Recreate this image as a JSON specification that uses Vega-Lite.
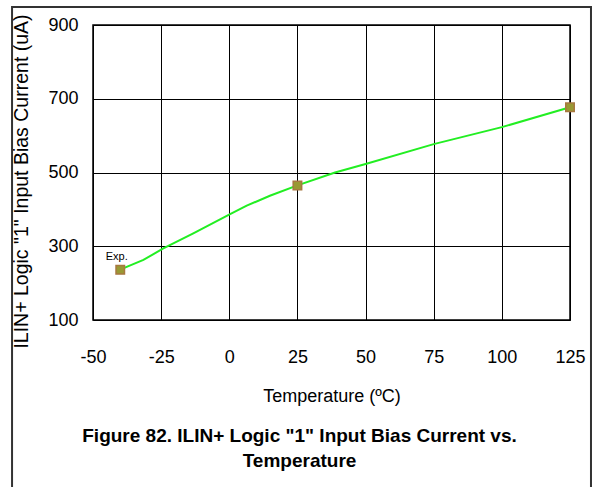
{
  "$schema": "https://vega.github.io/schema/vega-lite/v6.json",
  "width": 477,
  "height": 295,
  "autosize": "none",
  "padding": {"left": 93, "top": 25, "right": 24, "bottom": 167},
  "background": "white",
  "config": {
    "font": "Liberation Sans",
    "view": {"stroke": "black", "strokeWidth": 1.5}
  },
  "title": {
    "text": ["Figure 82. ILIN+ Logic \"1\" Input Bias Current vs.", "Temperature"],
    "orient": "bottom",
    "anchor": "middle",
    "frame": "bounds",
    "font": "Liberation Sans",
    "fontSize": 19,
    "fontWeight": "bold",
    "color": "black",
    "lineHeight": 25,
    "offset": -64,
    "dx": -2
  },
  "datasets": {
    "curve": [
      {"t": -40, "i": 236},
      {"t": -38.3, "i": 242},
      {"t": -31.5, "i": 263},
      {"t": -24.2, "i": 294},
      {"t": -13.2, "i": 335},
      {"t": 0.3, "i": 387},
      {"t": 6.4, "i": 410},
      {"t": 14.9, "i": 437},
      {"t": 25, "i": 465},
      {"t": 38.8, "i": 500},
      {"t": 50, "i": 523},
      {"t": 75, "i": 577},
      {"t": 100, "i": 623},
      {"t": 125, "i": 677}
    ],
    "points": [
      {"t": -40, "i": 236},
      {"t": 25, "i": 465},
      {"t": 125, "i": 677}
    ],
    "labels": [
      {"t": -41.3, "i": 271, "label": "Exp."}
    ],
    "frame": [
      {"x1": -79.7, "x2": 132.7, "y1": 948.8, "y2": -361}
    ]
  },
  "encoding": {
    "x": {
      "field": "t",
      "type": "quantitative",
      "scale": {"domain": [-50, 125], "nice": false, "zero": false},
      "axis": {
        "values": [-50, -25, 0, 25, 50, 75, 100, 125],
        "labelExpr": "'' + datum.value",
        "title": "Temperature (ºC)",
        "titleFont": "Liberation Sans",
        "titleFontSize": 18,
        "titleFontWeight": "normal",
        "titleColor": "black",
        "titlePadding": 21,
        "labelFont": "Liberation Sans",
        "labelFontSize": 18,
        "labelColor": "black",
        "labelPadding": 28,
        "labelFlush": false,
        "ticks": false,
        "domain": false,
        "grid": true,
        "gridColor": "black",
        "gridOpacity": 1,
        "gridWidth": 1
      }
    },
    "y": {
      "field": "i",
      "type": "quantitative",
      "scale": {"domain": [100, 900], "nice": false, "zero": false},
      "axis": {
        "values": [100, 300, 500, 700, 900],
        "labelExpr": "'' + datum.value",
        "title": "ILIN+ Logic \"1\" Input Bias Current (uA)",
        "titleFont": "Liberation Sans",
        "titleFontSize": 19.5,
        "titleFontWeight": "normal",
        "titleColor": "black",
        "titlePadding": 16,
        "titleY": 156,
        "labelFont": "Liberation Sans",
        "labelFontSize": 18,
        "labelColor": "black",
        "labelPadding": 15,
        "labelFlush": false,
        "ticks": false,
        "domain": false,
        "grid": true,
        "gridColor": "black",
        "gridOpacity": 1,
        "gridWidth": 1
      }
    }
  },
  "layer": [
    {
      "data": {"name": "frame"},
      "mark": {"type": "rect", "fill": null, "stroke": "#333333", "strokeWidth": 2, "clip": false},
      "encoding": {
        "x": {"field": "x1", "type": "quantitative"},
        "x2": {"field": "x2"},
        "y": {"field": "y1", "type": "quantitative"},
        "y2": {"field": "y2"}
      }
    },
    {
      "data": {"name": "curve"},
      "mark": {"type": "line", "color": "#22ee22", "strokeWidth": 2}
    },
    {
      "data": {"name": "points"},
      "mark": {"type": "square", "size": 72, "filled": true, "fill": "#999933", "stroke": "#a87840", "strokeWidth": 1.5, "opacity": 1}
    },
    {
      "data": {"name": "labels"},
      "mark": {"type": "text", "fontSize": 11, "font": "Liberation Sans", "color": "black"},
      "encoding": {"text": {"field": "label"}}
    }
  ]
}
